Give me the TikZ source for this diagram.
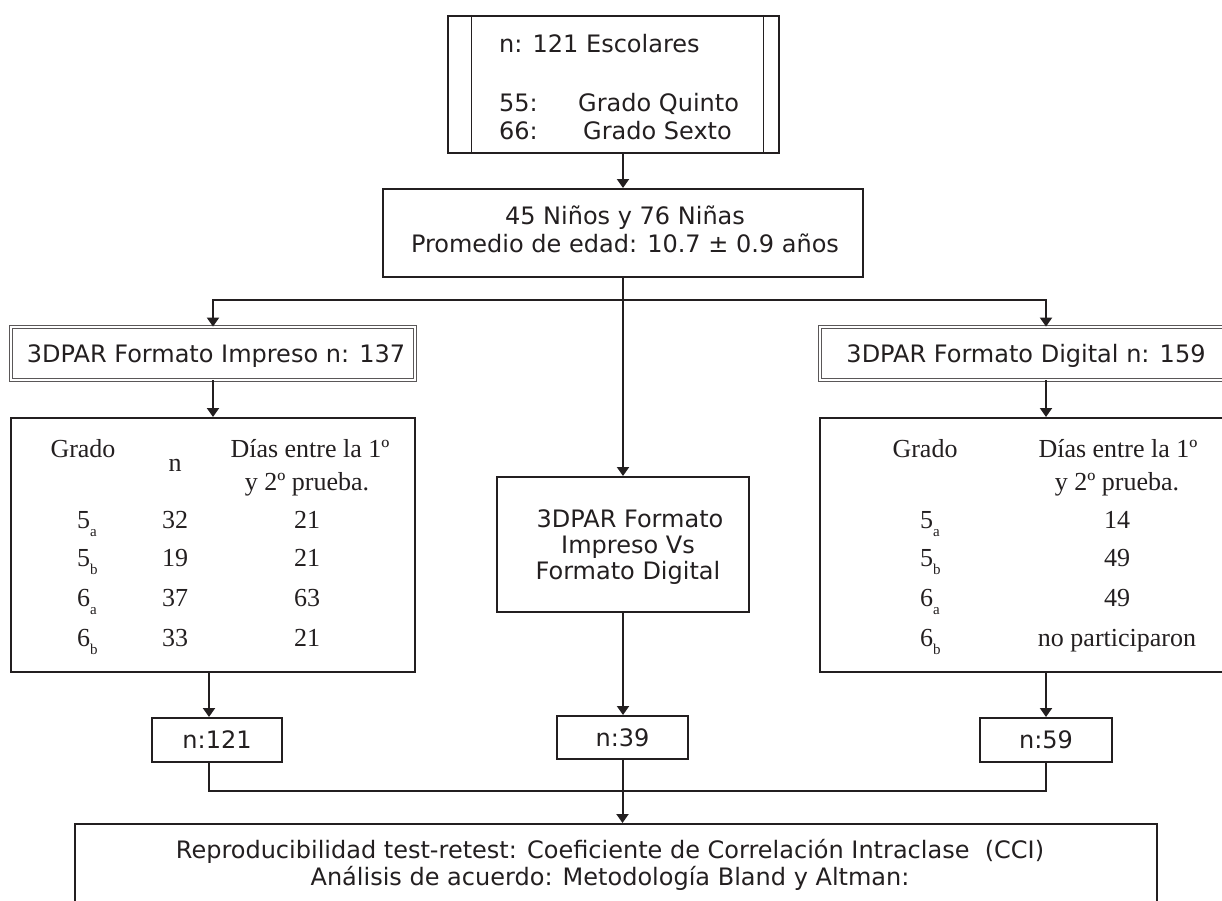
\documentclass[tikz,border=0pt]{standalone}
\usepackage{fontspec}
\newfontfamily\vfont{DejaVu Sans}
\newfontfamily\tfont{Liberation Serif}
\usetikzlibrary{arrows.meta}
\definecolor{ink}{HTML}{231F20}
\begin{document}
\begin{tikzpicture}[x=1pt,y=-1pt,
  box/.style={draw=ink, line width=2pt, inner sep=0pt},
  dbl/.style={draw=ink!75, double=white, double distance=2pt, line width=0.8pt, inner sep=0pt},
  arr/.style={draw=ink, line width=2pt, -{Triangle[width=12pt,length=9pt]}},
  ln/.style={draw=ink, line width=2pt},
  sans/.style={font=\vfont\fontsize{24}{28}\selectfont, text=ink, inner sep=0pt},
  serif/.style={font=\tfont\fontsize{26}{34}\selectfont, text=ink, inner sep=0pt}]
\useasboundingbox (0,0) rectangle (1222,900);
\clip (0,0) rectangle (1222,900);

% top box
\node[box, line width=2.5pt, minimum width=331pt, minimum height=137pt] (top) at (613.5,84.5) {};
\draw[ink, line width=1pt] ([xshift=25pt]top.north west) -- ([xshift=25pt]top.south west);
\draw[ink, line width=1pt] ([xshift=-17pt]top.north east) -- ([xshift=-17pt]top.south east);
\node[sans, anchor=base west] (t1) at (499,52) {n: 121 Escolares};
\node[sans, anchor=base west] (t2) at (499,111) {55:};
\node[sans, anchor=base west] (t3) at (578,111) {Grado Quinto};
\node[sans, anchor=base west] (t4) at (499,139) {66:};
\node[sans, anchor=base west] (t5) at (583,139) {Grado Sexto};

% second box
\node[box, minimum width=480pt, minimum height=88pt] (b2) at (623,233) {};
\node[sans, anchor=base] (b2a) at (625,224) {45 Niños y 76 Niñas};
\node[sans, anchor=base] (b2b) at (625,252) {Promedio de edad: 10.7 ± 0.9 años};

% format boxes
\node[dbl, minimum width=404pt, minimum height=53pt] (imp) at (213,353.5) {};
\node[sans, anchor=base] (impt) at (216,362) {3DPAR Formato Impreso n: 137};
\node[dbl, minimum width=452pt, minimum height=53pt] (dig) at (1046,353.5) {};
\node[sans, anchor=base] (digt) at (1026,362) {3DPAR Formato Digital n: 159};

% tables
\node[box, minimum width=404pt, minimum height=254pt] (tabL) at (213,545) {};
\node[box, minimum width=452pt, minimum height=254pt] (tabR) at (1046,545) {};

\node[serif, anchor=base] (gL) at (83,457) {Grado};
\node[serif, anchor=base] (nL) at (175,471) {n};
\node[serif, anchor=base] (dL1) at (310,457) {Días entre la 1º};
\node[serif, anchor=base] (dL2) at (307,490) {y 2º prueba.};
\foreach \g/\s/\n/\d/\y in {5/a/32/21/528, 5/b/19/21/566, 6/a/37/63/606, 6/b/33/21/646}{
  \node[serif, anchor=base west] (gl\y) at (77,\y) {\g\raisebox{-8pt}{\fontsize{15}{15}\selectfont\s}};
  \node[serif, anchor=base] (nl\y) at (175,\y) {\n};
  \node[serif, anchor=base] (dl\y) at (307,\y) {\d};
}

\node[serif, anchor=base] (gR) at (925,457) {Grado};
\node[serif, anchor=base] (dR1) at (1118,457) {Días entre la 1º};
\node[serif, anchor=base] (dR2) at (1117,490) {y 2º prueba.};
\foreach \g/\s/\d/\y in {5/a/14/528, 5/b/49/566, 6/a/49/606, 6/b/no participaron/646}{
  \node[serif, anchor=base west] (gr\y) at (920,\y) {\g\raisebox{-8pt}{\fontsize{15}{15}\selectfont\s}};
  \node[serif, anchor=base] (dr\y) at (1117,\y) {\d};
}

% middle box
\node[box, minimum width=252pt, minimum height=135pt] (mid) at (623,544.5) {};
\node[sans, anchor=base] (m1) at (630,527) {3DPAR Formato};
\node[sans, anchor=base] (m2) at (628,553) {Impreso Vs};
\node[sans, anchor=base] (m3) at (628,579) {Formato Digital};

% n boxes
\node[box, sans, minimum width=130pt, minimum height=44pt] (n121) at (217,740) {n:121};
\node[box, sans, minimum width=131pt, minimum height=43pt] (n39) at (622.5,737.5) {n:39};
\node[box, sans, minimum width=132pt, minimum height=44pt] (n59) at (1046,740) {n:59};

% bottom box
\node[box, minimum width=1082pt, minimum height=136pt] (bot) at (616,892) {};
\node[sans, anchor=base] (bt1) at (610,858) {Reproducibilidad test-retest: Coeficiente de Correlación Intraclase\ \ (CCI)};
\node[sans, anchor=base] (bt2) at (610,885) {Análisis de acuerdo: Metodología Bland y Altman:};

% connectors
\coordinate (br) at (623,300);
\draw[arr] (top.south -| b2.north) -- (b2.north);
\draw[arr] (b2.south) -- (mid.north);
\draw[arr] (br) -| (imp.north);
\draw[arr] (br) -| (dig.north);
\draw[arr] (imp.south) -- (tabL.north);
\draw[arr] (dig.south) -- (tabR.north);
\draw[arr] ([xshift=-4pt]tabL.south) -- ([xshift=-4pt]tabL.south |- n121.north);
\draw[arr] (mid.south) -- (mid.south |- n39.north);
\draw[arr] (tabR.south) -- (n59.north);
\draw[ln] ([xshift=-4pt]tabL.south |- n121.south) -- ++(0,28) -| (n59.south);
\draw[arr] (n39.south) -- (n39.south |- bot.north);
\end{tikzpicture}
\end{document}
